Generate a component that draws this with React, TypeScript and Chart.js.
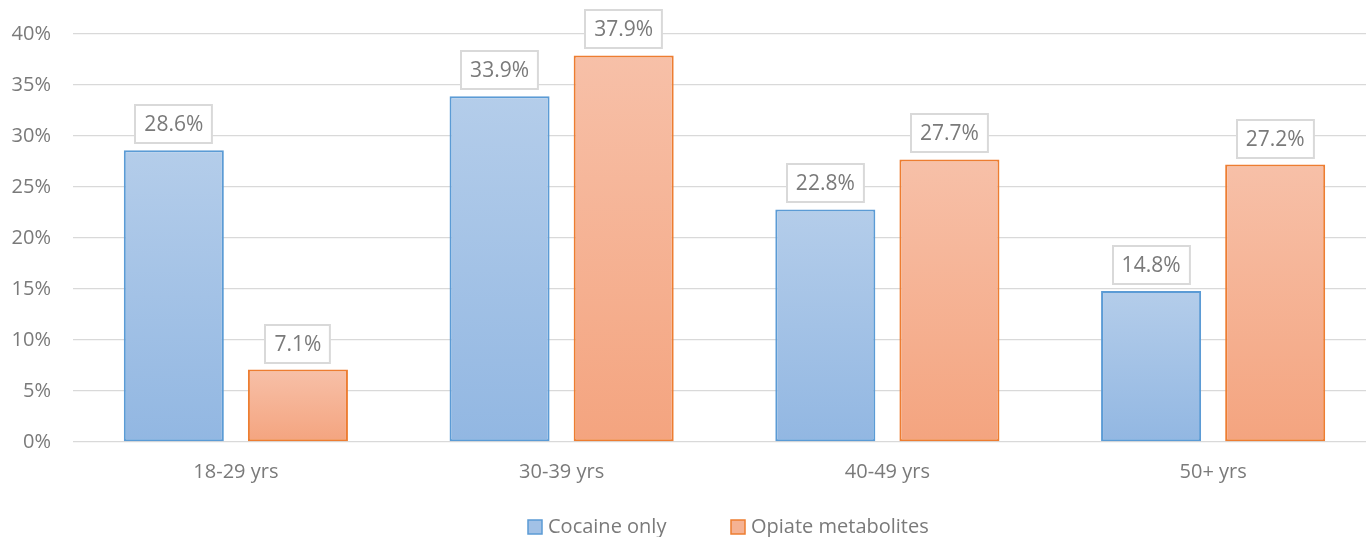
import React, { useEffect, useRef } from "react";
import { Chart, registerables } from "chart.js";

Chart.register(...registerables);

const categories = ["18-29 yrs", "30-39 yrs", "40-49 yrs", "50+ yrs"];
const seriesNames = ["Cocaine only", "Opiate metabolites"];
const cocaineOnly = [28.6, 33.9, 22.8, 14.8];
const opiateMetabolites = [7.1, 37.9, 27.7, 27.2];
const yTicks = [0, 5, 10, 15, 20, 25, 30, 35, 40];

const FONT = "'Open Sans', 'Liberation Sans', sans-serif";
const TEXT = "#7a7a7a";

const palettes = [
  { top: "#b4cdea", bottom: "#92b7e2", border: "#5b9bd5", legend: "#a2c1e6" },
  { top: "#f7c0a8", bottom: "#f4a47f", border: "#ed7d31", legend: "#f5b293" },
];

const gradientFor = (idx: number) => (ctx: any) => {
  const p = palettes[idx];
  const chart = ctx.chart;
  const { chartArea, scales } = chart;
  if (!chartArea || ctx.type !== "data" || !scales.y) return p.legend;
  const top = scales.y.getPixelForValue(ctx.raw as number);
  const bottom = scales.y.getPixelForValue(0);
  if (!isFinite(top) || !isFinite(bottom) || top === bottom) return p.legend;
  const g = chart.ctx.createLinearGradient(0, top, 0, bottom);
  g.addColorStop(0, p.top);
  g.addColorStop(1, p.bottom);
  return g;
};

const labelPlugin = {
  id: "boxLabels",
  afterDatasetsDraw(chart: any) {
    const c = chart.ctx;
    c.save();
    c.font = `21px ${FONT}`;
    c.textAlign = "center";
    c.textBaseline = "middle";
    chart.data.datasets.forEach((ds: any, di: number) => {
      const meta = chart.getDatasetMeta(di);
      meta.data.forEach((el: any, i: number) => {
        const txt = `${ds.data[i].toFixed(1)}%`;
        const w = c.measureText(txt).width + 18;
        const h = 38;
        const bx = Math.round(el.x - w / 2);
        const by = Math.round(el.y - 7 - h);
        c.fillStyle = "#ffffff";
        c.fillRect(bx, by, w, h);
        c.strokeStyle = "#d9d9d9";
        c.lineWidth = 2;
        c.strokeRect(bx, by, w, h);
        c.fillStyle = TEXT;
        c.fillText(txt, el.x, by + h / 2 + 1);
      });
    });
    c.restore();
  },
};

const legendPlugin = {
  id: "customLegend",
  afterDraw(chart: any) {
    const c = chart.ctx;
    c.save();
    c.font = `20px ${FONT}`;
    c.textBaseline = "middle";
    c.textAlign = "left";
    const y = 527;
    const starts = [528, 731];
    seriesNames.forEach((name, i) => {
      const x = starts[i];
      const p = palettes[i];
      c.fillStyle = p.legend;
      c.fillRect(x, y - 7, 14, 14);
      c.strokeStyle = p.border;
      c.lineWidth = 1.5;
      c.strokeRect(x, y - 7, 14, 14);
      c.fillStyle = TEXT;
      c.fillText(name, x + 20, y);
    });
    c.restore();
  },
};

export default function App() {
  const ref = useRef<HTMLCanvasElement | null>(null);
  useEffect(() => {
    if (!ref.current) return;
    const chart = new Chart(ref.current, {
      type: "bar",
      data: {
        labels: categories,
        datasets: [
          {
            label: seriesNames[0],
            data: cocaineOnly,
            backgroundColor: gradientFor(0),
            borderColor: palettes[0].border,
            borderWidth: 2,
            borderSkipped: false,
          },
          {
            label: seriesNames[1],
            data: opiateMetabolites,
            backgroundColor: gradientFor(1),
            borderColor: palettes[1].border,
            borderWidth: 2,
            borderSkipped: false,
          },
        ],
      },
      options: {
        responsive: false,
        maintainAspectRatio: false,
        animation: false,
        layout: { padding: { top: 31.5, left: 0, right: 0, bottom: 0 } },
        datasets: {
          bar: { categoryPercentage: 0.762, barPercentage: 0.806 },
        },
        plugins: {
          legend: { display: false },
          tooltip: { enabled: false },
        },
        scales: {
          x: {
            grid: { display: false, drawTicks: false },
            border: { display: false },
            ticks: {
              color: TEXT,
              font: { family: FONT, size: 20 },
              padding: 18,
            },
            afterFit: (s: any) => {
              s.height = 95;
            },
          },
          y: {
            min: 0,
            max: 40,
            afterBuildTicks: (s: any) => {
              s.ticks = yTicks.map((v) => ({ value: v }));
            },
            grid: { color: "#d9d9d9", lineWidth: 1.3, drawTicks: false },
            border: { display: false },
            ticks: {
              color: TEXT,
              font: { family: FONT, size: 20 },
              padding: 22,
              callback: (v: any) => `${v}%`,
            },
            afterFit: (s: any) => {
              s.width = 73;
            },
          },
        },
      },
      plugins: [labelPlugin, legendPlugin],
    });
    return () => chart.destroy();
  }, []);
  return (
    <div style={{ position: "fixed", left: 0, top: 0, width: 1376, height: 537, background: "#fff" }}>
      <canvas ref={ref} width={1376} height={537} />
    </div>
  );
}
